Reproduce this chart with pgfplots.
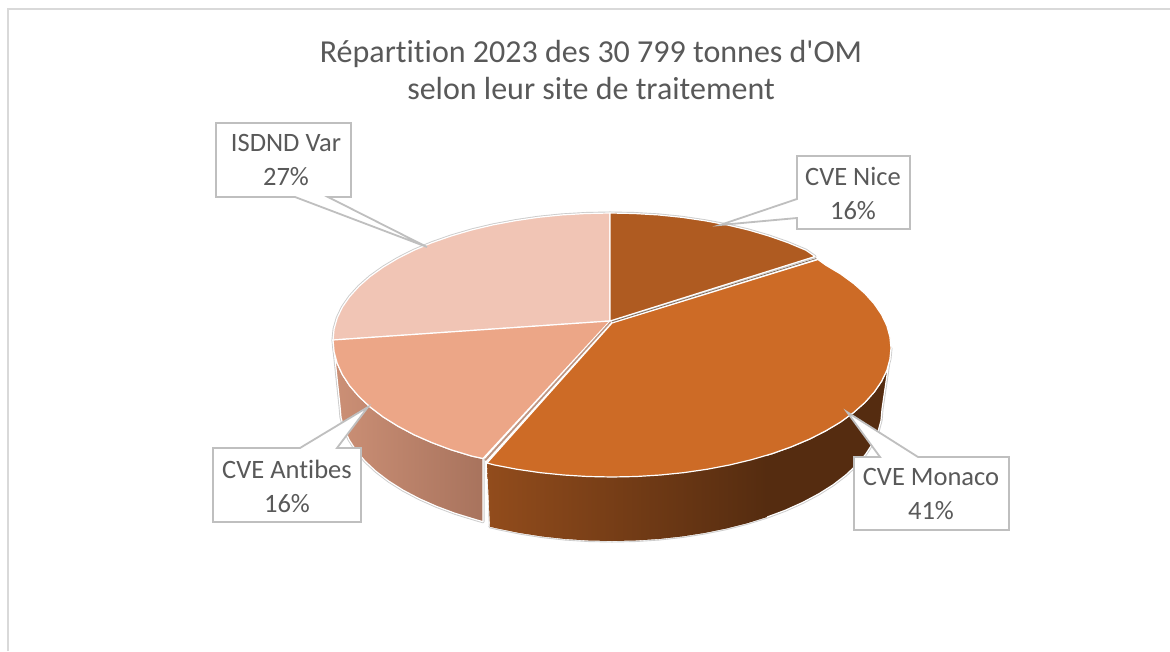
\documentclass[border=0pt]{standalone}
\usepackage{fontspec}
\newfontfamily\carl{Carlito}[Ligatures=CommonOff]
\usepackage{pgfplots}
\usepackage{pgfplotstable}
\pgfplotsset{compat=1.18}

\definecolor{txtgray}{HTML}{595959}
\definecolor{framegray}{HTML}{D9D9D9}
\definecolor{boxgray}{HTML}{BFBFBF}
\definecolor{halogray}{HTML}{CCCCCC}
\definecolor{cnice}{RGB}{175,91,33}
\definecolor{cmonaco}{RGB}{205,107,38}
\definecolor{cantibes}{RGB}{236,166,135}
\definecolor{cisdnd}{RGB}{241,197,181}
\definecolor{sideantl}{RGB}{204,144,118}
\definecolor{sideantr}{RGB}{168,115,93}
\definecolor{sidemonl}{RGB}{146,76,28}
\definecolor{sidemonr}{RGB}{85,44,16}
\definecolor{gapant}{RGB}{190,150,130}
\definecolor{gapnice}{RGB}{130,105,85}

\tikzset{
    sliceline/.style={draw=white,line width=1.2pt,line join=round},
    haloline/.style={draw=halogray,line width=3pt,line join=round},
    callout/.style={fill=white,draw=boxgray,line width=1.8pt,line join=miter},
    lab/.style={text=txtgray,align=center,font=\carl\fontsize{26.5}{34}\selectfont},
}

% outlines, in pixels
\pgfplotstableread{
x y
610 321
610 213
634.2 213.5
658.1 214.9
681.7 217.3
704.7 220.7
727.1 224.9
748.5 230
768.9 236
788.1 242.7
805.9 250.2
815 256.5
}\tnice
\pgfplotstableread{
x y
610 321
610 213
585.8 213.5
561.9 214.9
538.3 217.3
515.3 220.7
492.9 224.9
471.5 230
451.1 236
431.9 242.7
414.1 250.2
397.8 258.4
383.1 267.2
370.1 276.5
359 286.3
349.7 296.6
342.4 307.1
337.2 318
334.1 328.9
333 340
}\tisdnd
\pgfplotstableread{
x y
610 321
333 340
334.1 351.7
337.2 363.3
342.4 374.7
349.7 385.8
359 396.6
370.1 407
383.1 416.9
397.8 426.1
414.1 434.8
431.9 442.6
451.1 449.8
471.5 456
483 458.5
}\tantibes
\pgfplotstableread{
x y
333 340
334.1 351.7
337.2 363.3
342.4 374.7
349.7 385.8
359 396.6
370.1 407
383.1 416.9
397.8 426.1
414.1 434.8
431.9 442.6
451.1 449.8
471.5 456
483 458.5
483 521.7
475 519.4
455.1 513.3
436.4 506.3
419.1 498.6
403.2 490.2
388.8 481.1
376.2 471.5
365.3 461.4
356.3 450.8
349.2 439.9
344.1 428.7
341 417.4
340 406
}\tantibesside
\pgfplotstableread{
x y
612 323
818 259.5
825.7 265.1
840.6 274
853.6 283.5
864.9 293.5
874.2 303.9
881.5 314.6
886.8 325.6
889.9 336.8
891 348
889.9 359.2
886.8 370.4
881.5 381.4
874.2 392.1
864.9 402.5
853.6 412.5
840.6 422
825.7 430.9
809.3 439.2
791.3 446.8
772 453.7
751.5 459.7
729.9 464.9
707.4 469.2
684.2 472.6
660.4 475
636.3 476.5
612 477
587.7 476.5
563.6 475
539.8 472.6
516.6 469.2
494.1 464.9
487 463
}\tmonaco
\pgfplotstableread{
x y
487 463
494.1 464.9
516.6 469.2
539.8 472.6
563.6 475
587.7 476.5
612 477
636.3 476.5
660.4 475
684.2 472.6
707.4 469.2
729.9 464.9
751.5 459.7
772 453.7
791.3 446.8
809.3 439.2
825.7 430.9
840.6 422
853.6 412.5
864.9 402.5
874.2 392.1
881.5 381.4
886.8 370.4
889.9 359.2
891 348
882 409
881 420.5
877.9 431.9
872.8 443.2
865.7 454.1
856.7 464.8
845.8 475
833.2 484.7
818.8 493.8
802.9 502.3
785.6 510.1
766.9 517.1
747 523.3
726.1 528.6
704.3 533
681.9 536.5
658.9 539
635.5 540.5
612 541
588.5 540.5
565.1 539
542.1 536.5
519.7 533
497.9 528.6
490 526.8
}\tmonacoside
\pgfplotstableread{
x y
487 463
494.1 464.9
516.6 469.2
539.8 472.6
563.6 475
587.7 476.5
612 477
636.3 476.5
660.4 475
684.2 472.6
707.4 469.2
729.9 464.9
751.5 459.7
766.9 455.2
766.9 517.1
747 523.3
726.1 528.6
704.3 533
681.9 536.5
658.9 539
635.5 540.5
612 541
588.5 540.5
565.1 539
542.1 536.5
519.7 533
497.9 528.6
490 526.8
}\tmonacograd

\begin{document}
\begin{tikzpicture}
\begin{axis}[
    scale only axis,
    width=1170pt,
    height=651pt,
    xmin=0,xmax=1170,
    ymin=0,ymax=651,
    y dir=reverse,
    hide axis,
]
% page and frame
\addplot[fill=white,draw=none] coordinates {(0,0)(1170,0)(1170,651)(0,651)} --cycle;
\addplot[draw=framegray,line width=1.8pt] coordinates {(8,651)(8,9)(1170,9)};

% halo round the pie
\addplot[haloline] table {\tisdnd} --cycle;
\addplot[haloline] table {\tnice} --cycle;
\addplot[haloline] table {\tmonacoside} --cycle;
\addplot[haloline] table {\tantibesside} --cycle;

% side faces
\addplot[sliceline,left color=sideantl,right color=sideantr] table {\tantibesside} --cycle;
\addplot[sliceline,fill=sidemonr] table {\tmonacoside} --cycle;
\addplot[draw=none,left color=sidemonl,right color=sidemonr] table {\tmonacograd} --cycle;

% top faces
\addplot[sliceline,fill=cisdnd] table {\tisdnd} --cycle;
\addplot[sliceline,fill=cantibes] table {\tantibes} --cycle;
\addplot[sliceline,fill=cnice] table {\tnice} --cycle;
\addplot[sliceline,fill=cmonaco] table {\tmonaco} --cycle;

% thin faces seen in the gaps
\addplot[fill=gapant,draw=none] coordinates {(610,321.5)(484.5,459.5)(485.8,461)(611,322.5)} --cycle;
\addplot[fill=gapnice,draw=none] coordinates {(612,321.4)(816,258.2)(816.5,258.8)(612,322.2)} --cycle;
\addplot[draw=white,line width=1.5pt] coordinates {(486,461)(488,526)};

% callouts
\addplot[callout] coordinates {(216,123)(351,123)(351,197)(328,197)(427,247)(295,197)(216,197)} --cycle;
\addplot[callout] coordinates {(797,156)(910,156)(910,229)(797,229)(797,218)(720,225)(797,199)} --cycle;
\addplot[callout] coordinates {(213,448)(300,448)(368,407)(337,448)(361,448)(361,522)(213,522)} --cycle;
\addplot[callout] coordinates {(854,457)(880,457)(847,412)(918,457)(1009,457)(1009,530)(854,530)} --cycle;

\node[text=txtgray,align=center,font=\carl\fontsize{32}{36.5}\selectfont] at (axis cs:591,70) {Répartition 2023 des 30 799 tonnes d'OM\\selon leur site de traitement};
\node[lab] at (axis cs:286,160.5) {ISDND Var\\27\%};
\node[lab] at (axis cs:853,193.5) {CVE Nice\\16\%};
\node[lab] at (axis cs:287,486) {CVE Antibes\\16\%};
\node[lab] at (axis cs:931,494) {CVE Monaco\\41\%};
\end{axis}
\end{tikzpicture}
\end{document}
